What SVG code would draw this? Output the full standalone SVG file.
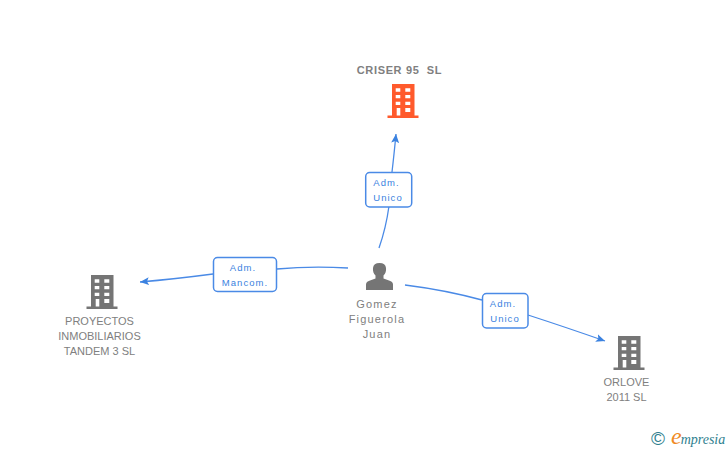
<svg xmlns="http://www.w3.org/2000/svg" width="728" height="450" viewBox="0 0 728 450">
<style>
.n{font-family:"Liberation Sans",Arial,sans-serif;font-size:11px;fill:#808080;text-anchor:middle}
.p{letter-spacing:1.2px}
.t{font-weight:bold;letter-spacing:.65px;white-space:pre}
.l{font-family:"Liberation Sans",Arial,sans-serif;font-size:9.5px;fill:#3b82e0;text-anchor:middle;letter-spacing:1.05px}
.b{fill:#fff;stroke:#4a8ae6;stroke-width:1.5}
.c{fill:none;stroke:#4a8ae6;stroke-width:1.3}
.w{fill:#fff}
</style>
<defs>
<marker id="a" markerUnits="userSpaceOnUse" markerWidth="12" markerHeight="12" refX="9" refY="5" orient="auto"><path d="M0 1L9 5L0 9L2 5Z" fill="#3b82e0"/></marker>
<g id="bld">
<path d="M-11 0H11.500V31.500H15.500V34H-15.500V31.500H-11Z"/>
<path class="w" d="M-7.300 4.300H-2.700V7.700H-7.300ZM2.300 4.300H7.300V7.700H2.300ZM-7.300 11H-2.700V14.300H-7.300ZM2.300 11H7.300V14.300H2.300ZM-7.300 17.700H-2.700V21H-7.300ZM2.300 17.700H7.300V21H2.300ZM-6.300 24H-2.700V31.500H-6.300ZM2.300 24H7.300V28H2.300Z"/>
</g>
</defs>
<g id="connectors">
<path class="c" marker-end="url(#a)" d="M379 248Q386 228 389 206M392 172Q394 155 396 134"/>
<path class="c" marker-end="url(#a)" d="M348 268Q310 266 277 269M213 274Q175 279 140 282"/>
<path class="c" marker-end="url(#a)" d="M405 285Q445 290 482 300M528 315Q565 327 605 341"/>
</g>
<g id="n1"><text class="n t" x="399.500" y="74">CRISER 95  SL</text><use href="#bld" x="403" y="84" fill="#ff5a2c"/></g>
<g id="n2"><use href="#bld" x="102" y="275" fill="#757575"/><text class="n" x="99.500" y="325">PROYECTOS</text><text class="n" x="99.500" y="340">INMOBILIARIOS</text><text class="n" x="99.500" y="355">TANDEM 3 SL</text></g>
<g id="n3"><use href="#bld" x="629" y="336" fill="#757575"/><text class="n" x="626.500" y="386">ORLOVE</text><text class="n" x="626.500" y="401">2011 SL</text></g>
<g id="n4"><path fill="#757575" d="M366 290V284.500Q366 281.500 370 280.500L375.500 278.500V275.500Q372.500 272.500 373 268Q373.500 263 379.500 263Q385.500 263 386 268Q386.500 272.500 383.500 275.500V278.500L389 280.500Q393 281.500 393 284.500V290Z"/><text class="n p" x="377" y="308">Gomez</text><text class="n p" x="377" y="323">Figuerola</text><text class="n p" x="377" y="338">Juan</text></g>
<g id="e1"><rect class="b" x="365.700" y="172.500" width="46" height="34.500" rx="4"/><text class="l" x="386.500" y="186">Adm.</text><text class="l" x="388" y="201">Unico</text></g>
<g id="e2"><rect class="b" x="213.500" y="257.500" width="63" height="34" rx="4"/><text class="l" x="243" y="271">Adm.</text><text class="l" x="245" y="286">Mancom.</text></g>
<g id="e3"><rect class="b" x="482.500" y="293.500" width="45.500" height="34.500" rx="4"/><text class="l" x="503" y="307">Adm.</text><text class="l" x="505" y="322">Unico</text></g>
<g id="logo"><text x="658" y="445" font-family="'Liberation Sans',sans-serif" font-size="19" fill="#2f7f8f" text-anchor="middle">©</text><text x="671" y="444" font-family="'Liberation Serif',serif" font-style="italic" font-size="14" fill="#2f7f8f"><tspan font-size="24" fill="#f08a24">e</tspan><tspan dx="-1">mpresia</tspan></text></g>
</svg>
